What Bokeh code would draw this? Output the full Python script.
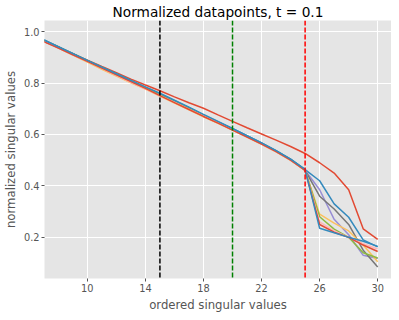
from bokeh.plotting import figure
from bokeh.models import Span, Range1d, FixedTicker, PrintfTickFormatter
from bokeh.embed import file_html
from bokeh.resources import INLINE

x = list(range(7, 31))

s0 = [0.962, 0.938, 0.914, 0.889, 0.864, 0.840, 0.815, 0.792, 0.770, 0.746, 0.723, 0.702, 0.676, 0.651, 0.626, 0.602, 0.578, 0.553, 0.526, 0.490, 0.450, 0.385, 0.233, 0.192]
s1 = [0.968, 0.941, 0.915, 0.888, 0.862, 0.836, 0.810, 0.783, 0.757, 0.731, 0.704, 0.676, 0.649, 0.622, 0.595, 0.567, 0.537, 0.504, 0.463, 0.420, 0.330, 0.278, 0.190, 0.163]
s2 = [0.965, 0.939, 0.912, 0.885, 0.858, 0.832, 0.805, 0.779, 0.752, 0.726, 0.699, 0.672, 0.646, 0.619, 0.592, 0.564, 0.534, 0.501, 0.461, 0.385, 0.270, 0.210, 0.130, 0.118]
s3 = [0.966, 0.940, 0.913, 0.887, 0.860, 0.834, 0.807, 0.780, 0.754, 0.727, 0.700, 0.673, 0.647, 0.620, 0.593, 0.565, 0.535, 0.502, 0.460, 0.360, 0.310, 0.250, 0.150, 0.085]
s4 = [0.964, 0.937, 0.909, 0.881, 0.853, 0.827, 0.801, 0.776, 0.749, 0.722, 0.696, 0.669, 0.643, 0.617, 0.590, 0.562, 0.532, 0.499, 0.460, 0.290, 0.255, 0.225, 0.170, 0.105]
s5 = [0.966, 0.940, 0.913, 0.887, 0.861, 0.835, 0.809, 0.782, 0.755, 0.728, 0.701, 0.674, 0.647, 0.620, 0.593, 0.565, 0.535, 0.502, 0.461, 0.280, 0.232, 0.200, 0.140, 0.120]
s6 = [0.963, 0.937, 0.910, 0.884, 0.857, 0.830, 0.803, 0.777, 0.751, 0.725, 0.698, 0.672, 0.645, 0.618, 0.591, 0.563, 0.533, 0.500, 0.460, 0.260, 0.225, 0.200, 0.175, 0.155]
s7 = [0.961, 0.936, 0.910, 0.884, 0.858, 0.832, 0.806, 0.779, 0.751, 0.724, 0.697, 0.670, 0.644, 0.617, 0.590, 0.563, 0.533, 0.500, 0.460, 0.250, 0.220, 0.200, 0.170, 0.145]
s8 = [0.967, 0.941, 0.914, 0.888, 0.862, 0.836, 0.810, 0.785, 0.760, 0.733, 0.706, 0.678, 0.651, 0.623, 0.595, 0.567, 0.537, 0.504, 0.464, 0.235, 0.218, 0.200, 0.185, 0.165]
series = [s0, s1, s2, s3, s4, s5, s6, s7, s8]
colors = ['#E24A33', '#348ABD', '#988ED5', '#777777', '#FBC15E', '#8EBA42', '#FFB5B8', '#E24A33', '#348ABD']

vlines = [15, 20, 25]
vcolors = ['black', 'green', 'red']

xticks = [10, 14, 18, 22, 26, 30]
yticks = [0.2, 0.4, 0.6, 0.8, 1.0]

p = figure(frame_width=347, frame_height=258, output_backend="svg", toolbar_location=None,
           x_range=Range1d(7.05, 30.95), y_range=Range1d(0.04, 1.043),
           title="Normalized datapoints, t = 0.1",
           min_border_left=37, min_border_right=0, min_border_top=15, min_border_bottom=0)
p.background_fill_color = '#E5E5E5'
p.border_fill_color = 'white'
p.outline_line_color = None
p.title.text_font = 'DejaVu Sans'
p.title.text_font_size = '13.7px'
p.title.text_font_style = 'normal'
p.title.align = 'center'
p.title.text_color = 'black'
p.title.standoff = 2

for ax in (p.xaxis[0], p.yaxis[0]):
    ax.axis_line_color = None
    ax.major_tick_line_color = '#555555'
    ax.major_tick_out = 3
    ax.major_tick_in = 0
    ax.minor_tick_line_color = None
    ax.major_label_text_font = 'DejaVu Sans'
    ax.major_label_text_font_size = '9.8px'
    ax.major_label_text_color = '#555555'
    ax.axis_label_text_font = 'DejaVu Sans'
    ax.axis_label_text_font_size = '11.7px'
    ax.axis_label_text_font_style = 'normal'
    ax.axis_label_text_color = '#555555'
    ax.major_label_standoff = 2
    ax.axis_label_standoff = 3

p.xaxis.ticker = FixedTicker(ticks=xticks)
p.yaxis.ticker = FixedTicker(ticks=yticks)
p.yaxis.formatter = PrintfTickFormatter(format="%.1f")
p.xaxis.axis_label = 'ordered singular values'
p.yaxis.axis_label = 'normalized singular values'

p.grid.grid_line_color = 'white'
p.grid.grid_line_width = 1

for s, c in zip(series, colors):
    p.line(x, s, line_color=c, line_width=1.5)

for v, c in zip(vlines, vcolors):
    p.add_layout(Span(location=v, dimension='height', line_color=c, line_width=1.5, line_dash='5 2'))

open("out.html", "w").write(file_html(p, INLINE))
